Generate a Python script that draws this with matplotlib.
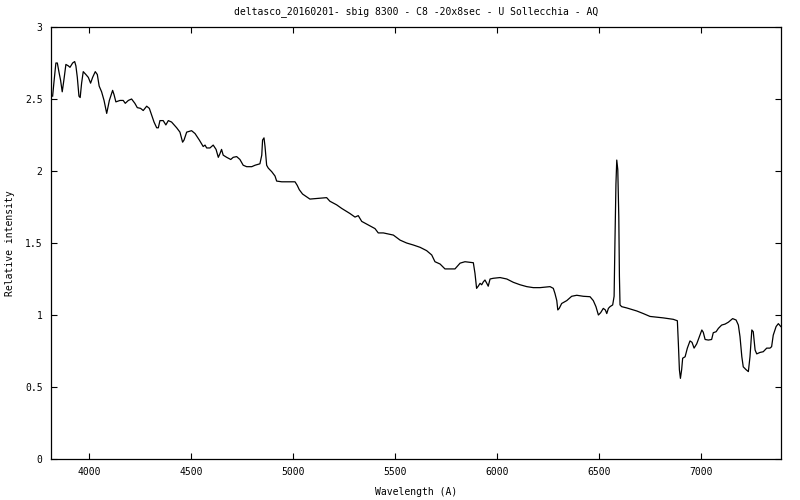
import matplotlib
matplotlib.use("Agg")
import matplotlib.pyplot as plt

# spectrum (wavelength in A, relative intensity)
wavelength = [
    3822, 3828, 3838, 3845, 3854, 3861, 3869, 3877, 3887, 3899, 3907, 3920,
    3930, 3936, 3943, 3951, 3957, 3964, 3972, 3985, 3997, 4008, 4018, 4031,
    4041, 4050, 4062, 4074, 4087, 4100, 4116, 4123, 4132, 4152, 4168, 4178,
    4193, 4209, 4225, 4237, 4253, 4266, 4283, 4296, 4307, 4319, 4332, 4340,
    4348, 4364, 4377, 4389, 4405, 4430, 4446, 4459, 4466, 4479, 4503, 4520,
    4541, 4560, 4569, 4577, 4593, 4609, 4623, 4634, 4642, 4650, 4658, 4675,
    4695, 4707, 4724, 4740, 4756, 4773, 4798, 4814, 4838, 4847, 4851, 4858,
    4863, 4871, 4879, 4896, 4912, 4920, 4945, 4977, 5010, 5021, 5031, 5047,
    5083, 5165, 5181, 5214, 5239, 5279, 5304, 5320, 5337, 5369, 5402, 5418,
    5443, 5492, 5525, 5557, 5590, 5623, 5655, 5680, 5696, 5721, 5745, 5770,
    5794, 5819, 5843, 5884, 5892, 5900, 5908, 5917, 5925, 5933, 5941, 5950,
    5957, 5966, 5982, 6015, 6048, 6080, 6113, 6146, 6178, 6211, 6260, 6276,
    6284, 6293, 6298, 6305, 6317, 6342, 6366, 6391, 6423, 6456, 6472, 6485,
    6497, 6508, 6521, 6531, 6538, 6546, 6554, 6567, 6574, 6578, 6583, 6587,
    6592, 6597, 6600, 6603, 6611, 6636, 6685, 6717, 6750, 6815, 6864, 6884,
    6889, 6894, 6899, 6905, 6910, 6922, 6933, 6946, 6956, 6966, 6979, 6992,
    7004, 7011, 7020, 7036, 7052, 7060, 7074, 7085, 7101, 7118, 7134, 7155,
    7172, 7183, 7191, 7200, 7207, 7221, 7232, 7240, 7249, 7256, 7265, 7273,
    7289, 7305, 7322, 7338, 7346, 7354, 7368, 7379, 7391,
]
intensity = [
    2.52, 2.61, 2.75, 2.75, 2.68, 2.63, 2.55, 2.63, 2.74, 2.73, 2.72, 2.75,
    2.76, 2.73, 2.65, 2.52, 2.51, 2.61, 2.69, 2.67, 2.65, 2.61, 2.65, 2.69,
    2.67, 2.59, 2.55, 2.49, 2.40, 2.49, 2.56, 2.53, 2.48, 2.49, 2.49, 2.47,
    2.49, 2.50, 2.47, 2.44, 2.435, 2.42, 2.45, 2.435, 2.39, 2.34, 2.30, 2.30,
    2.35, 2.35, 2.32, 2.35, 2.34, 2.30, 2.27, 2.20, 2.215, 2.27, 2.28, 2.26,
    2.215, 2.17, 2.18, 2.16, 2.16, 2.18, 2.15, 2.095, 2.12, 2.15, 2.11, 2.095,
    2.08, 2.095, 2.10, 2.08, 2.04, 2.03, 2.03, 2.04, 2.05, 2.11, 2.215, 2.23,
    2.17, 2.04, 2.02, 1.995, 1.965, 1.93, 1.925, 1.925, 1.925, 1.90, 1.87, 1.84,
    1.805, 1.815, 1.79, 1.765, 1.74, 1.705, 1.68, 1.69, 1.65, 1.625, 1.60, 1.57,
    1.57, 1.555, 1.52, 1.50, 1.486, 1.47, 1.447, 1.417, 1.37, 1.354, 1.32, 1.32,
    1.32, 1.36, 1.37, 1.363, 1.29, 1.185, 1.20, 1.22, 1.21, 1.23, 1.243, 1.22,
    1.20, 1.25, 1.255, 1.26, 1.25, 1.227, 1.21, 1.197, 1.19, 1.19, 1.197, 1.185,
    1.15, 1.10, 1.035, 1.046, 1.08, 1.10, 1.13, 1.137, 1.13, 1.127, 1.10, 1.058,
    1.00, 1.016, 1.046, 1.035, 1.01, 1.046, 1.058, 1.07, 1.13, 1.50, 1.91, 2.076,
    2.01, 1.68, 1.27, 1.07, 1.058, 1.049, 1.028, 1.01, 0.99, 0.98, 0.97, 0.96,
    0.80, 0.62, 0.56, 0.62, 0.70, 0.71, 0.77, 0.82, 0.81, 0.77, 0.80, 0.85,
    0.896, 0.88, 0.83, 0.826, 0.83, 0.877, 0.884, 0.907, 0.93, 0.937, 0.95, 0.975,
    0.965, 0.93, 0.85, 0.71, 0.64, 0.62, 0.607, 0.71, 0.896, 0.884, 0.757, 0.73,
    0.74, 0.745, 0.77, 0.77, 0.78, 0.86, 0.92, 0.94, 0.92,
]

xticks = [4000, 4500, 5000, 5500, 6000, 6500, 7000]
yticks = [0, 0.5, 1, 1.5, 2, 2.5, 3]
ytick_labels = ["0", "0.5", "1", "1.5", "2", "2.5", "3"]

plt.rcParams['font.family'] = ['DejaVu Sans Mono']
fs = 7

fig = plt.figure(figsize=(8, 5), dpi=100)
ax = fig.add_axes([51/800, 41/500, 730/800, 432/500])

ax.plot(wavelength, intensity, color='black', linewidth=0.9)

ax.set_xlim(3814, 7392)
ax.set_ylim(0, 3)
ax.set_xticks(xticks)
ax.set_xticklabels([str(t) for t in xticks])
ax.set_yticks(yticks)
ax.set_yticklabels(ytick_labels)
ax.tick_params(direction='in', length=4.5, width=0.8, top=True, right=True,
               labelsize=fs, pad=6)
for sp in ax.spines.values():
    sp.set_linewidth(0.9)

ax.set_title("deltasco_20160201- sbig 8300 - C8 -20x8sec - U Sollecchia - AQ",
             fontsize=fs, pad=9)
ax.set_xlabel("Wavelength (A)", fontsize=fs, labelpad=7)
ax.set_ylabel("Relative intensity", fontsize=fs)
ax.yaxis.set_label_coords(-0.049, 0.5)

fig.savefig("out.png", dpi=100)
